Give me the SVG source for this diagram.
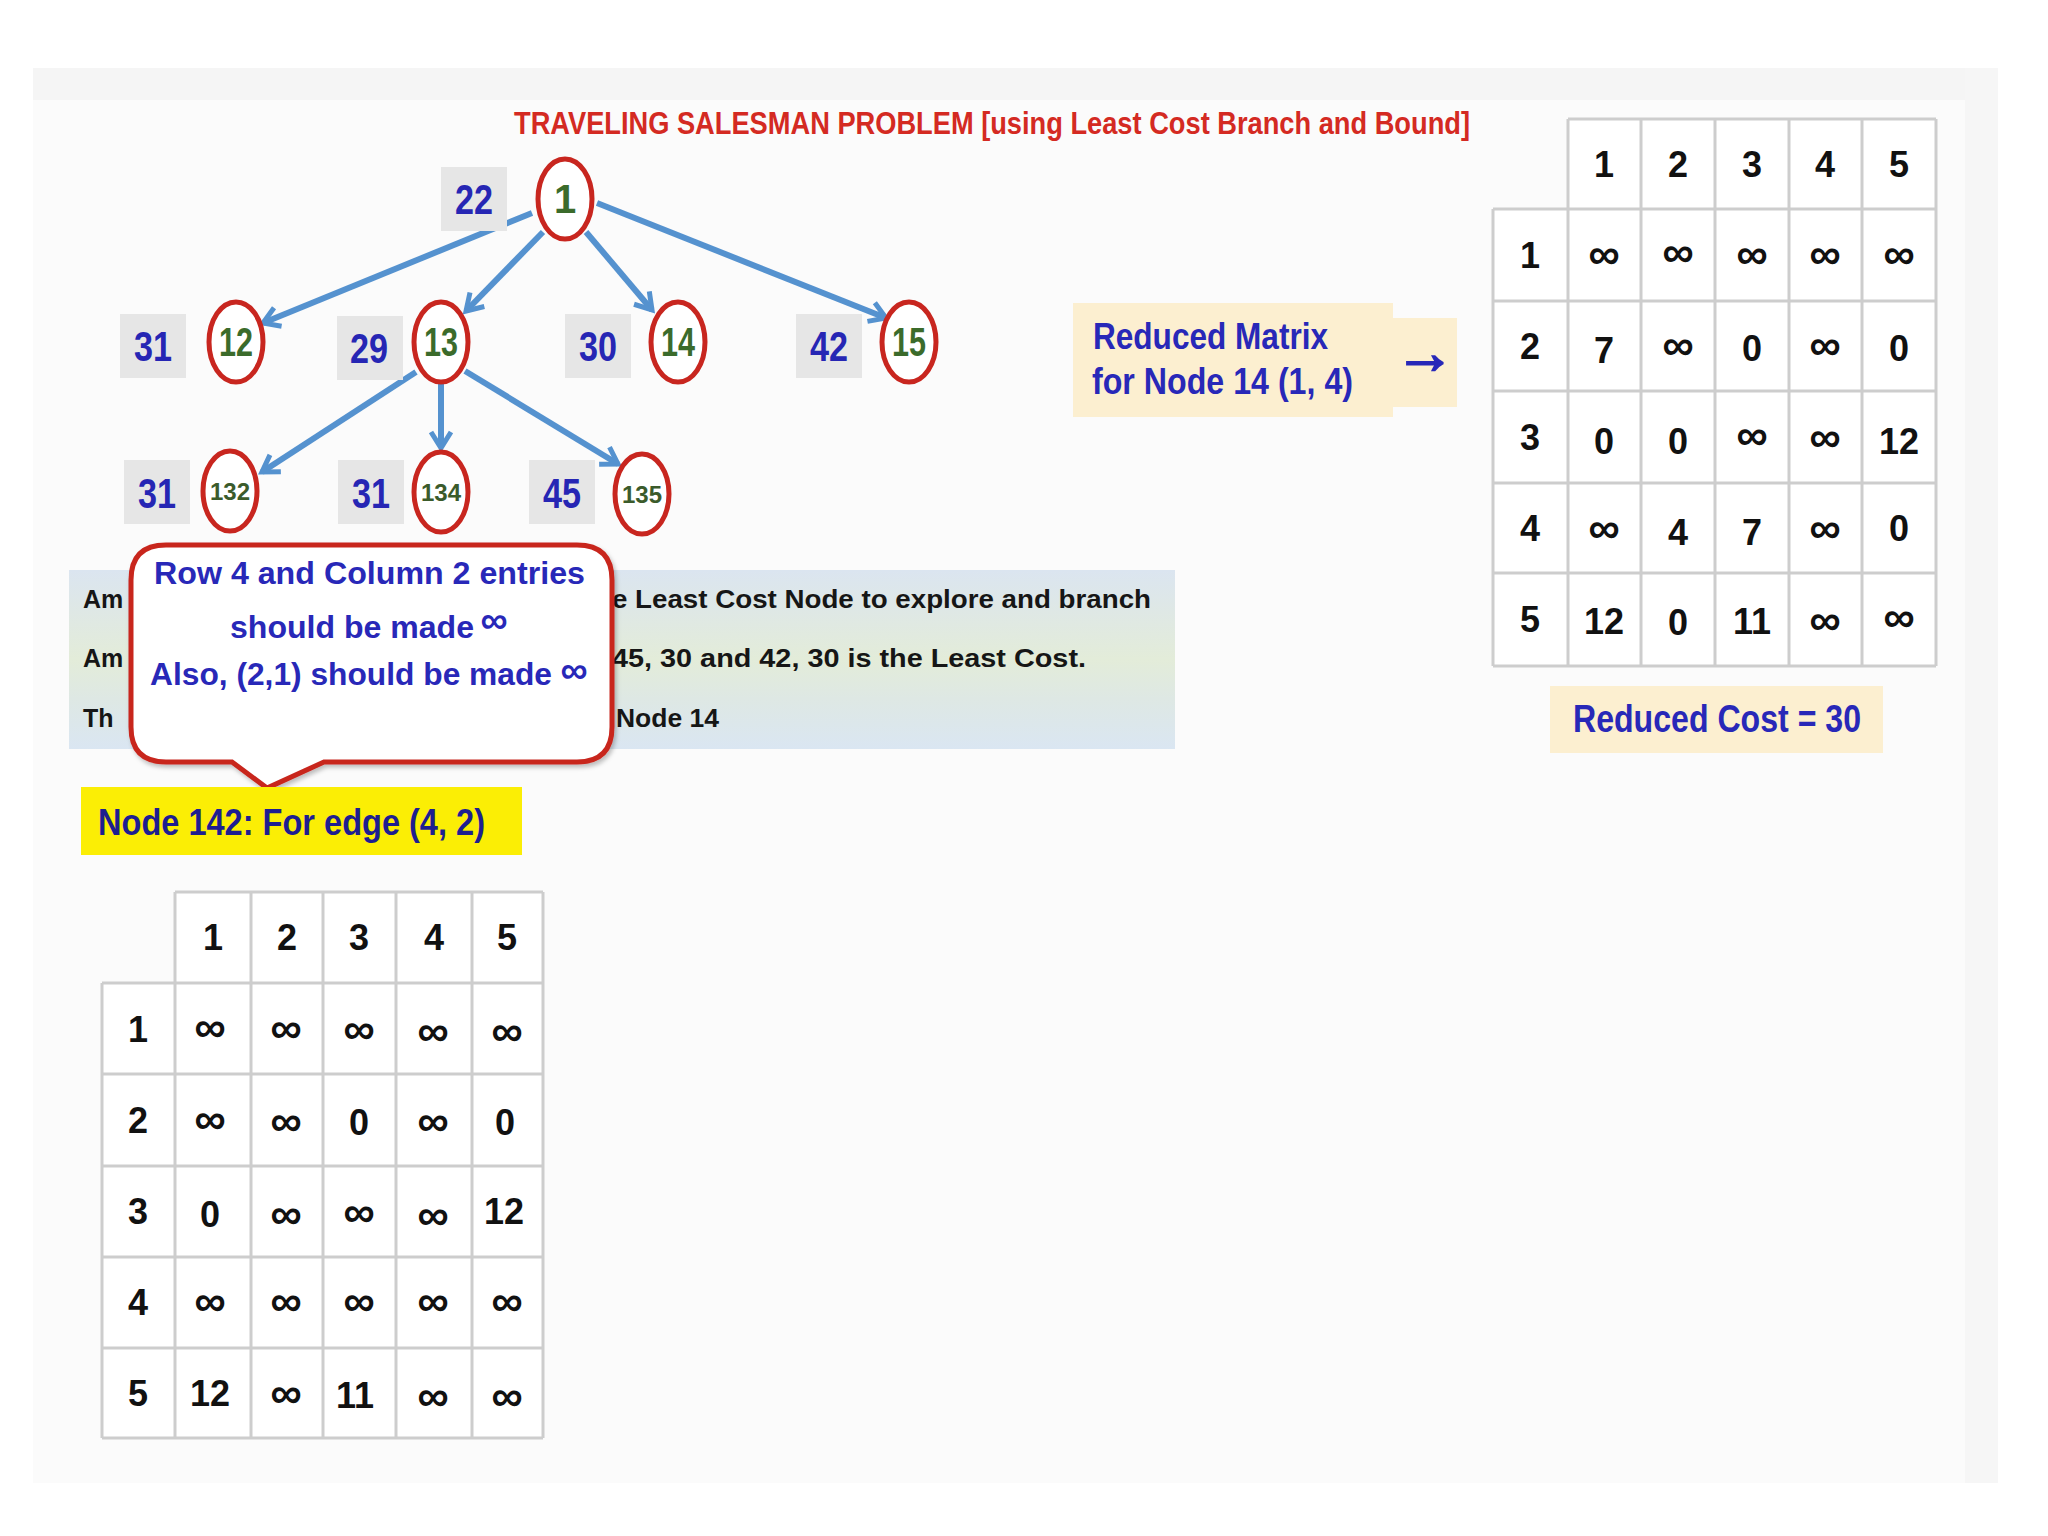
<svg xmlns="http://www.w3.org/2000/svg" width="2048" height="1536" viewBox="0 0 2048 1536">
<defs>
<style>
.f{font-family:"Liberation Sans Narrow","Liberation Sans",Arial,sans-serif;font-weight:bold}
.title{font-size:32px;fill:#d42a22}
.lbl{font-size:42px;fill:#2626b4;text-anchor:middle;dominant-baseline:central}
.lblbox{fill:#e6e6e6}
.node{fill:#fff;stroke:#c8261f;stroke-width:5}
.nt{font-size:40px;fill:#3b6b2b;text-anchor:middle;dominant-baseline:central}
.nts{font-size:24px;fill:#3b5b2b;text-anchor:middle;dominant-baseline:central}
.edge{stroke:#5592cf;stroke-width:6;fill:none;marker-end:url(#ah)}
.grid{stroke:#cdcdcd;stroke-width:3;fill:none}
.cell{fill:#fff}
.td{font-size:36px;fill:#111;text-anchor:middle;dominant-baseline:central}
.inf{font-size:44px;fill:#111;text-anchor:middle;dominant-baseline:central}
.blue{fill:#2828b8}
.panel{font-size:25px;fill:#161616}
</style>
<marker id="ah" markerUnits="userSpaceOnUse" markerWidth="26" markerHeight="26" viewBox="0 0 26 26" refX="20" refY="13" orient="auto">
<path d="M4,3 L20,13 L4,23" fill="none" stroke="#5592cf" stroke-width="5"/>
</marker>
<linearGradient id="pg" x1="0" y1="0" x2="0" y2="1">
<stop offset="0" stop-color="#dbe5f0"/>
<stop offset="0.3" stop-color="#e0e9e2"/>
<stop offset="0.5" stop-color="#e3ecd9"/>
<stop offset="0.72" stop-color="#dee8e4"/>
<stop offset="1" stop-color="#dae6f2"/>
</linearGradient>
<filter id="sh" x="-10%" y="-10%" width="120%" height="120%">
<feDropShadow dx="2" dy="3" stdDeviation="2" flood-color="#000" flood-opacity="0.25"/>
</filter>
</defs>

<rect x="0" y="0" width="2048" height="1536" fill="#ffffff"/>
<rect x="33" y="68" width="1965" height="1415" fill="#fbfbfb"/>
<rect x="33" y="68" width="1965" height="32" fill="#f5f5f5"/>
<rect x="1965" y="68" width="33" height="1415" fill="#f6f6f6"/>

<text id="title" class="f title" x="514" y="134" textLength="956" lengthAdjust="spacingAndGlyphs">TRAVELING SALESMAN PROBLEM [using Least Cost Branch and Bound]</text>

<g id="connectors">
<line class="edge" x1="532" y1="213" x2="263" y2="323"/>
<line class="edge" x1="543" y1="232" x2="466" y2="311"/>
<line class="edge" x1="586" y1="232" x2="652" y2="310"/>
<line class="edge" x1="597" y1="203" x2="886" y2="318"/>
<line class="edge" x1="416" y1="372" x2="262" y2="472"/>
<line class="edge" x1="441" y1="382" x2="441" y2="448"/>
<line class="edge" x1="465" y1="371" x2="618" y2="464"/>
</g>

<g id="node-1">
<rect class="lblbox" x="441" y="167" width="66" height="64"/>
<text class="f lbl" x="474" y="199" textLength="38" lengthAdjust="spacingAndGlyphs">22</text>
<ellipse class="node" cx="565" cy="199" rx="27" ry="40"/>
<text class="f nt" x="565" y="199">1</text>
</g>
<g id="node-12">
<rect class="lblbox" x="120" y="314" width="66" height="64"/>
<text class="f lbl" x="153" y="346" textLength="38" lengthAdjust="spacingAndGlyphs">31</text>
<ellipse class="node" cx="236" cy="342" rx="27" ry="40"/>
<text class="f nt" x="236" y="342" textLength="34" lengthAdjust="spacingAndGlyphs">12</text>
</g>
<g id="node-13">
<rect class="lblbox" x="337" y="316" width="66" height="64"/>
<text class="f lbl" x="369" y="348" textLength="38" lengthAdjust="spacingAndGlyphs">29</text>
<ellipse class="node" cx="441" cy="342" rx="27" ry="40"/>
<text class="f nt" x="441" y="342" textLength="34" lengthAdjust="spacingAndGlyphs">13</text>
</g>
<g id="node-14">
<rect class="lblbox" x="565" y="314" width="66" height="64"/>
<text class="f lbl" x="598" y="346" textLength="38" lengthAdjust="spacingAndGlyphs">30</text>
<ellipse class="node" cx="678" cy="342" rx="27" ry="40"/>
<text class="f nt" x="678" y="342" textLength="34" lengthAdjust="spacingAndGlyphs">14</text>
</g>
<g id="node-15">
<rect class="lblbox" x="796" y="314" width="66" height="64"/>
<text class="f lbl" x="829" y="346" textLength="38" lengthAdjust="spacingAndGlyphs">42</text>
<ellipse class="node" cx="909" cy="342" rx="27" ry="40"/>
<text class="f nt" x="909" y="342" textLength="34" lengthAdjust="spacingAndGlyphs">15</text>
</g>
<g id="node-132">
<rect class="lblbox" x="124" y="460" width="66" height="64"/>
<text class="f lbl" x="157" y="493" textLength="38" lengthAdjust="spacingAndGlyphs">31</text>
<ellipse class="node" cx="230" cy="491" rx="27" ry="40"/>
<text class="f nts" x="230" y="491">132</text>
</g>
<g id="node-134">
<rect class="lblbox" x="338" y="460" width="66" height="64"/>
<text class="f lbl" x="371" y="493" textLength="38" lengthAdjust="spacingAndGlyphs">31</text>
<ellipse class="node" cx="441" cy="492" rx="27" ry="40"/>
<text class="f nts" x="441" y="492">134</text>
</g>
<g id="node-135">
<rect class="lblbox" x="529" y="460" width="66" height="64"/>
<text class="f lbl" x="562" y="493" textLength="38" lengthAdjust="spacingAndGlyphs">45</text>
<ellipse class="node" cx="642" cy="494" rx="27" ry="40"/>
<text class="f nts" x="642" y="494">135</text>
</g>

<g id="info-panel">
<rect x="69" y="570" width="1106" height="179" fill="url(#pg)"/>
<text class="f panel" x="83" y="608">Am</text>
<text class="f panel" x="612" y="608" textLength="539" lengthAdjust="spacingAndGlyphs">e Least Cost Node to explore and branch</text>
<text class="f panel" x="83" y="667">Am</text>
<text class="f panel" x="612" y="667" textLength="474" lengthAdjust="spacingAndGlyphs">45, 30 and 42, 30 is the Least Cost.</text>
<text class="f panel" x="83" y="727">Th</text>
<text class="f panel" x="616" y="727" textLength="103" lengthAdjust="spacingAndGlyphs">Node 14</text>
</g>

<g id="callout">
<path d="M166,545 H577 Q612,545 612,580 V727 Q612,762 577,762 H324 L267,788 L232,762 H166 Q131,762 131,727 V580 Q131,545 166,545 Z" fill="#ffffff" stroke="#c8261f" stroke-width="5" filter="url(#sh)"/>
<text class="f blue" font-size="31" x="154" y="584" textLength="431" lengthAdjust="spacingAndGlyphs">Row 4 and Column 2 entries</text>
<text class="f blue" font-size="31" x="230" y="638" textLength="244" lengthAdjust="spacingAndGlyphs">should be made</text>
<text class="f blue" font-size="38" x="494" y="633" text-anchor="middle">∞</text>
<text class="f blue" font-size="31" x="150" y="685" textLength="402" lengthAdjust="spacingAndGlyphs">Also, (2,1) should be made</text>
<text class="f blue" font-size="38" x="574" y="683" text-anchor="middle">∞</text>
</g>

<g id="node142-label">
<rect x="81" y="787" width="441" height="68" fill="#fbee05"/>
<text class="f" font-size="37" fill="#1e1e90" x="98" y="835" textLength="387" lengthAdjust="spacingAndGlyphs">Node 142: For edge (4, 2)</text>
</g>

<g id="reduced-matrix-label">
<rect x="1073" y="303" width="320" height="114" fill="#fcefd0"/>
<rect x="1393" y="318" width="64" height="89" fill="#fcefd0"/>
<text class="f blue" font-size="36" x="1093" y="349" textLength="235" lengthAdjust="spacingAndGlyphs">Reduced Matrix</text>
<text class="f blue" font-size="36" x="1092" y="394" textLength="261" lengthAdjust="spacingAndGlyphs">for Node 14 (1, 4)</text>
<text class="f blue" font-size="60" stroke="#2828b8" stroke-width="2" x="1425" y="352" text-anchor="middle" dominant-baseline="central">→</text>
</g>

<g id="reduced-cost">
<rect x="1550" y="686" width="333" height="67" fill="#fcefd0"/>
<text class="f blue" font-size="38" x="1573" y="732" textLength="288" lengthAdjust="spacingAndGlyphs">Reduced Cost = 30</text>
</g>

<g id="matrix-node14">
<rect class="cell" x="1568" y="119" width="368" height="90"/>
<rect class="cell" x="1493" y="209" width="443" height="457"/>
<path class="grid" d="M1568,119 H1936 M1493,209 H1936 M1493,301 H1936 M1493,391 H1936 M1493,483 H1936 M1493,573 H1936 M1493,666 H1936 M1493,209 V666 M1568,119 V666 M1641,119 V666 M1715,119 V666 M1789,119 V666 M1862,119 V666 M1936,119 V666"/>
<text class="f td" x="1604" y="164">1</text><text class="f td" x="1678" y="164">2</text><text class="f td" x="1752" y="164">3</text><text class="f td" x="1825" y="164">4</text><text class="f td" x="1899" y="164">5</text>
<text class="f td" x="1530" y="255">1</text>
<text class="f inf" x="1604" y="253">∞</text><text class="f inf" x="1678" y="251">∞</text><text class="f inf" x="1752" y="253">∞</text><text class="f inf" x="1825" y="253">∞</text><text class="f inf" x="1899" y="253">∞</text>
<text class="f td" x="1530" y="346">2</text>
<text class="f td" x="1604" y="350">7</text><text class="f inf" x="1678" y="344">∞</text><text class="f td" x="1752" y="348">0</text><text class="f inf" x="1825" y="344">∞</text><text class="f td" x="1899" y="348">0</text>
<text class="f td" x="1530" y="437">3</text>
<text class="f td" x="1604" y="441">0</text><text class="f td" x="1678" y="441">0</text><text class="f inf" x="1752" y="434">∞</text><text class="f inf" x="1825" y="436">∞</text><text class="f td" x="1899" y="441">12</text>
<text class="f td" x="1530" y="528">4</text>
<text class="f inf" x="1604" y="527">∞</text><text class="f td" x="1678" y="532">4</text><text class="f td" x="1752" y="532">7</text><text class="f inf" x="1825" y="527">∞</text><text class="f td" x="1899" y="528">0</text>
<text class="f td" x="1530" y="619">5</text>
<text class="f td" x="1604" y="621">12</text><text class="f td" x="1678" y="622">0</text><text class="f td" x="1752" y="621">11</text><text class="f inf" x="1825" y="619">∞</text><text class="f inf" x="1899" y="616">∞</text>
</g>

<g id="matrix-node142">
<rect class="cell" x="175" y="892" width="368" height="91"/>
<rect class="cell" x="102" y="983" width="441" height="455"/>
<path class="grid" d="M175,892 H543 M102,983 H543 M102,1074 H543 M102,1166 H543 M102,1257 H543 M102,1348 H543 M102,1438 H543 M102,983 V1438 M175,892 V1438 M251,892 V1438 M323,892 V1438 M396,892 V1438 M472,892 V1438 M543,892 V1438"/>
<text class="f td" x="213" y="937">1</text><text class="f td" x="287" y="937">2</text><text class="f td" x="359" y="937">3</text><text class="f td" x="434" y="937">4</text><text class="f td" x="507" y="937">5</text>
<text class="f td" x="138" y="1029">1</text>
<text class="f inf" x="210" y="1026">∞</text><text class="f inf" x="286" y="1027">∞</text><text class="f inf" x="359" y="1028">∞</text><text class="f inf" x="433" y="1030">∞</text><text class="f inf" x="507" y="1030">∞</text>
<text class="f td" x="138" y="1120">2</text>
<text class="f inf" x="210" y="1118">∞</text><text class="f inf" x="286" y="1120">∞</text><text class="f td" x="359" y="1122">0</text><text class="f inf" x="433" y="1120">∞</text><text class="f td" x="505" y="1122">0</text>
<text class="f td" x="138" y="1211">3</text>
<text class="f td" x="210" y="1214">0</text><text class="f inf" x="286" y="1213">∞</text><text class="f inf" x="359" y="1211">∞</text><text class="f inf" x="433" y="1214">∞</text><text class="f td" x="504" y="1211">12</text>
<text class="f td" x="138" y="1302">4</text>
<text class="f inf" x="210" y="1300">∞</text><text class="f inf" x="286" y="1300">∞</text><text class="f inf" x="359" y="1300">∞</text><text class="f inf" x="433" y="1300">∞</text><text class="f inf" x="507" y="1300">∞</text>
<text class="f td" x="138" y="1393">5</text>
<text class="f td" x="210" y="1393">12</text><text class="f inf" x="286" y="1392">∞</text><text class="f td" x="355" y="1395">11</text><text class="f inf" x="433" y="1395">∞</text><text class="f inf" x="507" y="1395">∞</text>
</g>
</svg>
